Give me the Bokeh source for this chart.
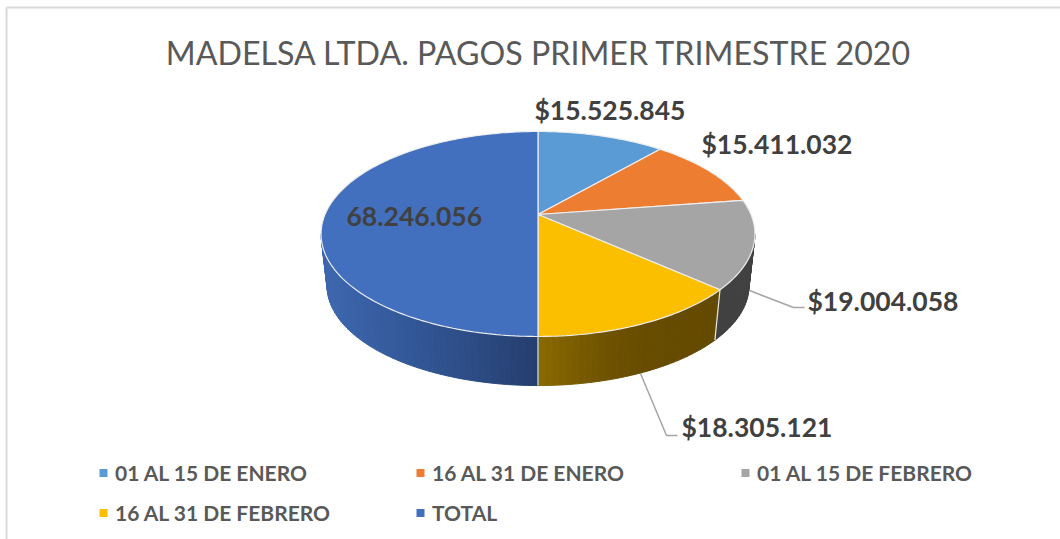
import numpy as np
from bokeh.plotting import figure
from bokeh.models import Range1d
from bokeh.core.properties import value
from bokeh.embed import file_html
from bokeh.resources import INLINE

# ---- data ----
categories = ["01 AL 15 DE ENERO", "16 AL 31 DE ENERO", "01 AL 15 DE FEBRERO", "16 AL 31 DE FEBRERO", "TOTAL"]
values = [15525845, 15411032, 19004058, 18305121, 68246056]
data_labels = ["$15.525.845", "$15.411.032", "$19.004.058", "$18.305.121", "68.246.056"]
colors = ["#5B9BD5", "#ED7D31", "#A5A5A5", "#FBBF00", "#4270BE"]
title = "MADELSA LTDA. PAGOS PRIMER TRIMESTRE 2020"

W, H = 1060, 539
FONT = "Lato"
CX, CY = 537.5, 214.0      # projected pie centre
A, B, K = 98.8, 213.0, 0.19  # perspective ellipse
SCALE, DROP = 0.972, 52.5  # base ring relative to top ring

label_pos = [(534, 109), (701, 143), (807, 300), (681, 426), (346, 216)]
legend_pos = [(99, 472), (416, 472), (741, 472), (99, 512), (416, 512)]


def rim(theta, base=False):
    """theta clockwise from top, degrees."""
    t = np.radians(theta)
    d = 1 + K * np.cos(t)
    X = B * np.sin(t) / d
    Y = A * np.cos(t) / d
    if base:
        return CX + SCALE * X, CY + DROP - SCALE * Y
    return CX + X, CY - Y


def lerp_color(stops, x):
    xs = [s[0] for s in stops]
    out = [np.interp(x, xs, [s[1][i] for s in stops]) for i in range(3)]
    return "#%02x%02x%02x" % tuple(int(round(c)) for c in out)


wall_stops = {
    2: [(0, (65, 65, 65)), (1060, (65, 65, 65))],
    3: [(537, (138, 106, 0)), (600, (112, 84, 0)), (650, (102, 75, 0)), (720, (100, 74, 0))],
    4: [(320, (61, 103, 175)), (430, (48, 84, 146)), (537, (37, 62, 110))],
}

p = figure(width=W, height=H, x_range=Range1d(0, W), y_range=Range1d(H, 0),
           output_backend="svg", toolbar_location=None, min_border=0, margin=0)
p.axis.visible = False
p.grid.visible = False
p.outline_line_color = None
p.background_fill_color = "white"
p.border_fill_color = "white"

# chart frame
p.line([6, 6], [H, 7], line_color="#D9D9D9", line_width=2)
p.line([6, W], [7, 7], line_color="#D9D9D9", line_width=2)

# cumulative angles
total = sum(values)
edges = np.concatenate([[0], np.cumsum(values) / total * 360])

# leader lines (behind the wall)
p.line([749, 793, 804], [290, 307, 307], line_color="#A6A6A6", line_width=1.5)
p.line([640, 666, 677], [373, 435, 435], line_color="#A6A6A6", line_width=1.5)

# side wall
T_MIN, T_MAX = 101.0, 259.0
for i in (2, 3, 4):
    a0, a1 = max(edges[i], T_MIN), min(edges[i + 1], T_MAX)
    n = max(2, int((a1 - a0) / 1.5))
    ts = np.linspace(a0, a1, n + 1)
    xs, ys, cs = [], [], []
    for s0, s1 in zip(ts[:-1], ts[1:]):
        sub = np.linspace(s0, s1, 3)
        tx, ty = rim(sub)
        bx, by = rim(sub[::-1], base=True)
        xs.append(list(tx) + list(bx))
        ys.append(list(ty) + list(by))
        cs.append(lerp_color(wall_stops[i], float(np.mean(tx))))
    p.patches(xs, ys, fill_color=cs, line_color=cs, line_width=1.0)

# seams on the wall
for e in (edges[3], edges[4]):
    tx, ty = rim(e)
    bx, by = rim(e, base=True)
    p.line([tx, bx], [ty, by], line_color="#E8E8E8", line_width=1.2)

# top face
for i, c in enumerate(colors):
    ang = np.linspace(edges[i], edges[i + 1], max(6, int(edges[i + 1] - edges[i])))
    rx, ry = rim(ang)
    p.patch([CX] + list(rx), [CY] + list(ry), fill_color=c, line_color="#EDEDED", line_width=1.2)

# data labels
p.text([q[0] for q in label_pos], [q[1] for q in label_pos], text=data_labels,
       text_font=value(FONT), text_font_style="bold", text_font_size="26.5px",
       text_color="#404040", text_align="left", text_baseline="middle")

# title
p.text([538.5], [52], text=[title], text_font=value(FONT), text_font_size="32.2px",
       text_color="#595959", text_align="center", text_baseline="middle")

# legend
lx = np.array([q[0] for q in legend_pos])
ly = np.array([q[1] for q in legend_pos])
p.quad(left=lx, right=lx + 8, top=ly - 3.5, bottom=ly + 4.5, fill_color=colors, line_color=None)
p.text(lx + 15.5, ly, text=categories, text_font=value(FONT), text_font_style="bold",
       text_font_size="21px", text_color="#595959", text_align="left", text_baseline="middle")

open("out.html", "w").write(file_html(p, INLINE))
